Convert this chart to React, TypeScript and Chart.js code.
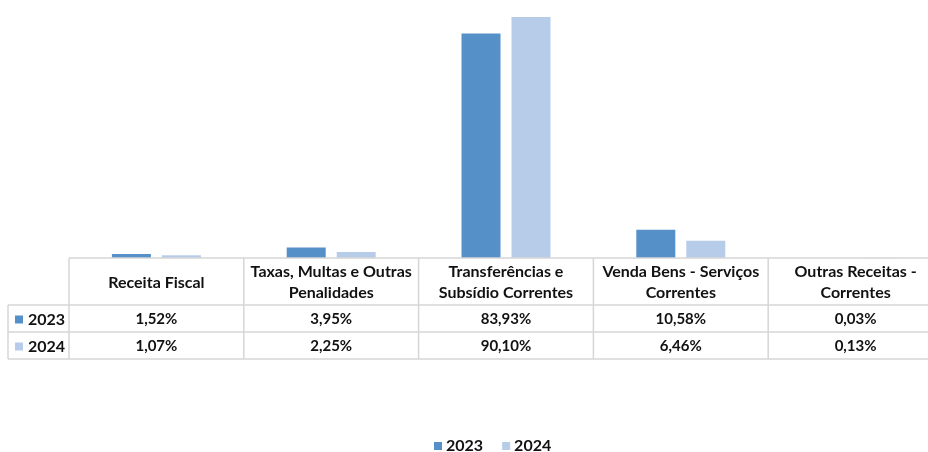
import React, { useEffect, useRef } from "react";
import { Chart, registerables } from "chart.js";

Chart.register(...registerables);

const categories: string[][] = [
  ["Receita Fiscal"],
  ["Taxas, Multas e Outras", "Penalidades"],
  ["Transferências e", "Subsídio Correntes"],
  ["Venda Bens - Serviços", "Correntes"],
  ["Outras Receitas -", "Correntes"],
];
const seriesLabels = ["2023", "2024"];
const values2023 = [1.52, 3.95, 83.93, 10.58, 0.03];
const values2024 = [1.07, 2.25, 90.1, 6.46, 0.13];
const colors = ["#5590C8", "#B7CCE9"];

const FONT = "Lato, 'Open Sans', sans-serif";
const fmt = (v: number) => v.toFixed(2).replace(".", ",") + "%";

const tablePlugin = {
  id: "dataTable",
  afterDraw(chart: any) {
    const ctx: CanvasRenderingContext2D = chart.ctx;
    const area = chart.chartArea;
    const xs = chart.scales.x;
    const n = chart.data.labels.length;
    const catW = (area.right - area.left) / n;
    const top = area.bottom;
    const headerH = 47;
    const rowH = 27;
    const keyLeft = 8;
    const r1 = top + headerH;
    const r2 = r1 + rowH;
    const r3 = r2 + rowH;
    ctx.save();
    ctx.strokeStyle = "#d6d6d6";
    ctx.lineWidth = 1.5;
    const line = (x1: number, y1: number, x2: number, y2: number) => {
      ctx.beginPath();
      ctx.moveTo(x1, y1);
      ctx.lineTo(x2, y2);
      ctx.stroke();
    };
    line(area.left, top, area.right, top);
    line(keyLeft, r1, area.right, r1);
    line(keyLeft, r2, area.right, r2);
    line(keyLeft, r3, area.right, r3);
    line(keyLeft, r1, keyLeft, r3);
    for (let i = 0; i <= n; i++) {
      const x = area.left + i * catW;
      line(x, top, x, r3);
    }
    ctx.fillStyle = "#111";
    ctx.textAlign = "center";
    ctx.textBaseline = "middle";
    ctx.font = "bold 16px " + FONT;
    chart.data.labels.forEach((lab: string[], i: number) => {
      const cx = xs.getPixelForValue(i);
      const lines = Array.isArray(lab) ? lab : [lab];
      const lh = 21;
      const cy = top + headerH / 2 + 1;
      lines.forEach((t, j) => {
        ctx.fillText(t, cx, cy + (j - (lines.length - 1) / 2) * lh);
      });
    });
    chart.data.datasets.forEach((ds: any, d: number) => {
      const cy = r1 + rowH * d + rowH / 2 + 1;
      ds.data.forEach((v: number, i: number) => {
        ctx.fillStyle = "#111";
        ctx.font = "bold 15px " + FONT;
        ctx.textAlign = "center";
        ctx.fillText(fmt(v), xs.getPixelForValue(i), cy);
      });
      ctx.fillStyle = ds.backgroundColor;
      ctx.fillRect(15, cy - 4, 8, 8);
      ctx.fillStyle = "#111";
      ctx.font = "bold 16px " + FONT;
      ctx.textAlign = "left";
      ctx.fillText(ds.label, 28, cy);
    });
    // bottom legend
    const ly = 446;
    let lx = 434;
    ctx.font = "bold 16px " + FONT;
    chart.data.datasets.forEach((ds: any) => {
      ctx.fillStyle = ds.backgroundColor;
      ctx.fillRect(lx, ly - 4, 8, 8);
      ctx.fillStyle = "#111";
      ctx.textAlign = "left";
      ctx.fillText(ds.label, lx + 12, ly);
      lx += 12 + ctx.measureText(ds.label).width + 19;
    });
    ctx.restore();
  },
};

export default function App() {
  const ref = useRef<HTMLCanvasElement | null>(null);
  useEffect(() => {
    if (!ref.current) return;
    const chart = new Chart(ref.current, {
      type: "bar",
      data: {
        labels: categories,
        datasets: [
          { label: seriesLabels[0], data: values2023, backgroundColor: colors[0], categoryPercentage: 0.572, barPercentage: 0.78 },
          { label: seriesLabels[1], data: values2024, backgroundColor: colors[1], categoryPercentage: 0.572, barPercentage: 0.78 },
        ],
      },
      options: {
        responsive: false,
        animation: false,
        layout: { padding: { left: 69, right: 7, top: 0, bottom: 194 } },
        plugins: { legend: { display: false }, tooltip: { enabled: false } },
        scales: {
          x: { display: false },
          y: { display: false, min: 0, max: 96.45 },
        },
      },
      plugins: [tablePlugin],
    });
    return () => chart.destroy();
  }, []);
  return (
    <div style={{ position: "absolute", left: 0, top: 0, width: 950, height: 452 }}>
      <canvas ref={ref} width={950} height={452} style={{ width: 950, height: 452 }} />
    </div>
  );
}
